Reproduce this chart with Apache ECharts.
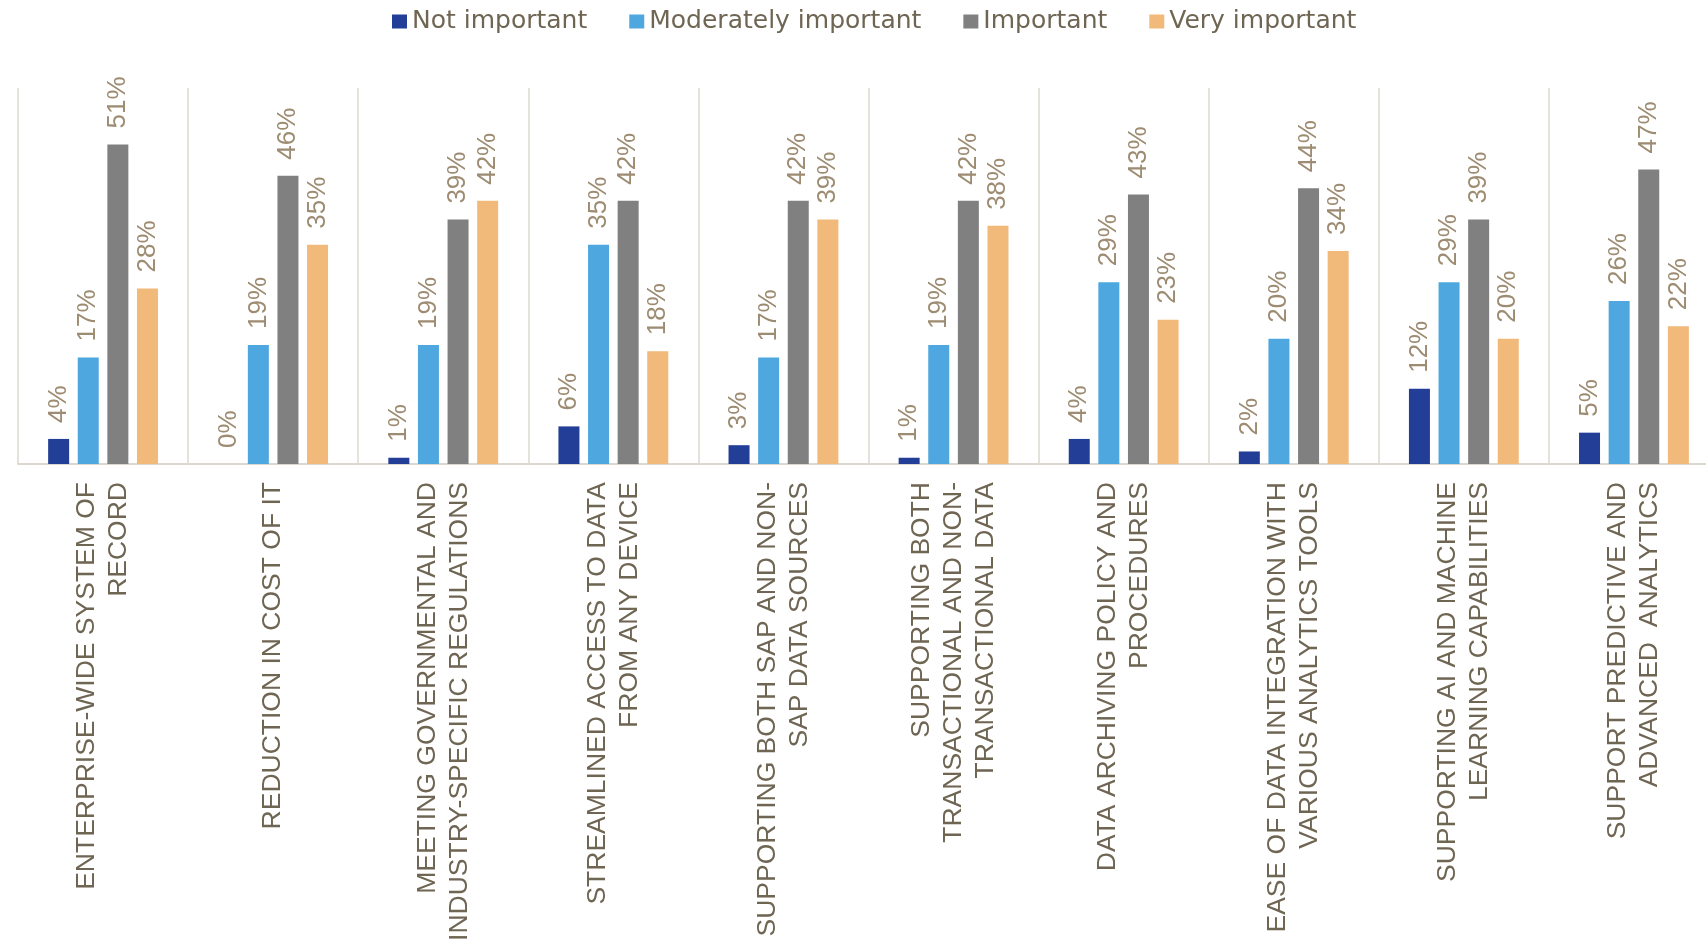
<!DOCTYPE html>
<html>
<head>
<meta charset="utf-8">
<script src="https://cdn.jsdelivr.net/npm/echarts@6/dist/echarts.min.js"></script>
<style>
    html, body {margin: 0; padding: 0; background: #fff;}
    #chart {width: 1706px; height: 943px;}
</style>
</head>
<body>
<div id="chart"></div>
<script>
var categories = [
    'ENTERPRISE-WIDE SYSTEM OF\nRECORD',
    'REDUCTION IN COST OF IT',
    'MEETING GOVERNMENTAL AND\nINDUSTRY-SPECIFIC REGULATIONS',
    'STREAMLINED ACCESS TO DATA\nFROM ANY DEVICE',
    'SUPPORTING BOTH SAP AND NON-\nSAP DATA SOURCES',
    'SUPPORTING BOTH\nTRANSACTIONAL AND NON-\nTRANSACTIONAL DATA',
    'DATA ARCHIVING POLICY AND\nPROCEDURES',
    'EASE OF DATA INTEGRATION WITH\nVARIOUS ANALYTICS TOOLS',
    'SUPPORTING AI AND MACHINE\nLEARNING CAPABILITIES',
    'SUPPORT PREDICTIVE AND\nADVANCED  ANALYTICS'
];
var seriesNames = ['Not important', 'Moderately important', 'Important', 'Very important'];
var notImportant = [4, 0, 1, 6, 3, 1, 4, 2, 12, 5];
var moderatelyImportant = [17, 19, 19, 35, 17, 19, 29, 20, 29, 26];
var important = [51, 46, 39, 42, 42, 42, 43, 44, 39, 47];
var veryImportant = [28, 35, 42, 18, 39, 38, 23, 34, 20, 22];
var colors = ['#233e96', '#4ea7de', '#808080', '#f1b97a'];

var narrow = '"Liberation Sans Narrow", "Arial Narrow", "Liberation Sans", Arial, sans-serif';

// 每个系列的柱子和竖排百分比标签
function makeSeries(name, data, color) {
    return {
        name: name,
        type: 'bar',
        data: data,
        barWidth: 21,
        barGap: '41%',
        itemStyle: {color: color},
        label: {
            show: true,
            position: 'top',
            rotate: 90,
            align: 'left',
            verticalAlign: 'middle',
            distance: 16,
            formatter: '{c}%',
            color: '#9d8c72',
            fontFamily: narrow,
            fontSize: 26
        }
    };
}

var myChart = echarts.init(document.getElementById('chart'));
myChart.setOption({
    animation: false,
    color: colors,
    legend: {
        top: 4,
        left: 387,
        itemWidth: 15,
        itemHeight: 14,
        itemGap: 42,
        icon: 'rect',
        textStyle: {
            color: '#6f6553',
            fontFamily: '"DejaVu Sans", sans-serif',
            fontSize: 25
        },
        data: seriesNames
    },
    grid: {
        left: 18,
        top: 88,
        width: 1701,
        height: 376,
        outerBoundsMode: 'none',
        containLabel: false
    },
    xAxis: {
        type: 'category',
        data: categories,
        axisLine: {lineStyle: {color: '#dcd8cf', width: 2}},
        axisTick: {show: false},
        splitLine: {show: true, lineStyle: {color: '#dcd8cf', width: 1.5}},
        axisLabel: {
            interval: 0,
            rotate: 90,
            margin: 18,
            color: '#6f6553',
            fontFamily: narrow,
            fontSize: 26.5,
            lineHeight: 32
        }
    },
    yAxis: {
        type: 'value',
        min: 0,
        max: 60,
        show: false,
        splitLine: {show: false}
    },
    series: [
        makeSeries(seriesNames[0], notImportant, colors[0]),
        makeSeries(seriesNames[1], moderatelyImportant, colors[1]),
        makeSeries(seriesNames[2], important, colors[2]),
        makeSeries(seriesNames[3], veryImportant, colors[3])
    ]
});
</script>
</body>
</html>
